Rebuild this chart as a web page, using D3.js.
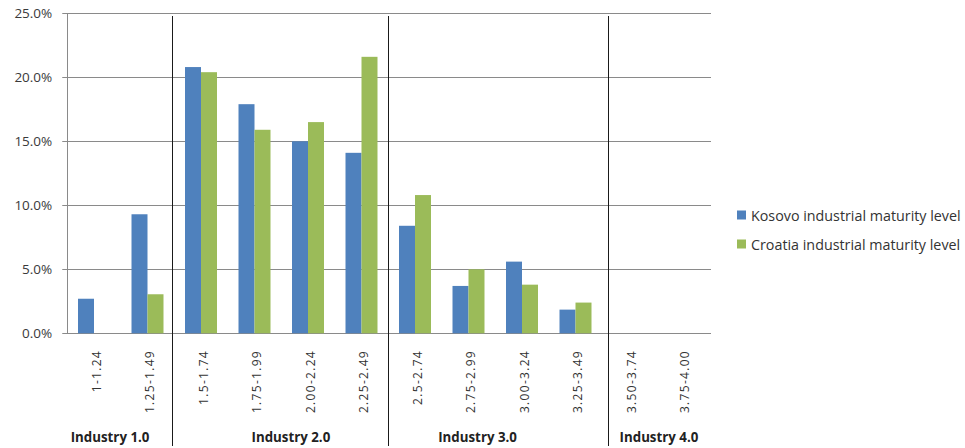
<!DOCTYPE html>
<html>
<head>
<meta charset="utf-8">
<script src="https://cdn.jsdelivr.net/npm/d3@7"></script>
<style>
  html, body { margin: 0; padding: 0; background: #fff; }
  svg { display: block; }
</style>
</head>
<body>
<svg id="chart" width="965" height="448"></svg>
<script>
// ---- Data ----
const categories = ["1-1.24", "1.25-1.49", "1.5-1.74", "1.75-1.99", "2.00-2.24", "2.25-2.49",
                    "2.5-2.74", "2.75-2.99", "3.00-3.24", "3.25-3.49", "3.50-3.74", "3.75-4.00"];
const seriesNames = ["Kosovo industrial maturity level", "Croatia industrial maturity level"];
const kosovo  = [2.7, 9.3, 20.8, 17.9, 15.0, 14.1, 8.4, 3.7, 5.6, 1.85, 0, 0];
const croatia = [0,   3.05, 20.4, 15.9, 16.5, 21.6, 10.8, 5.0, 3.8, 2.4, 0, 0];
const yTicks = [0, 5, 10, 15, 20, 25];
const groupNames = ["Industry 1.0", "Industry 2.0", "Industry 3.0", "Industry 4.0"];
// group separators and label centres, in category units from the left edge
const groupBreaks = [1.96, 6.0, 10.1];
const groupLabelPos = [0.8, 4.18, 7.67, 11.06];

const colors = ["#4F81BD", "#9BBB59"];

// ---- Layout ----
const svg = d3.select("#chart");
const plotLeft = 67.25, plotRight = 709.25, plotTop = 13.3, plotBottom = 333.3;

const x0 = d3.scaleBand().domain(categories).range([plotLeft, plotRight]).paddingInner(0.402).paddingOuter(0.201);
const x1 = d3.scaleBand().domain([0, 1]).range([0, x0.bandwidth()]);
const y = d3.scaleLinear().domain([0, 25]).range([plotBottom, plotTop]);
const stepUnits = d3.scaleLinear().domain([0, categories.length]).range([plotLeft, plotRight]);

// gridlines
svg.append("g").selectAll("line").data(yTicks).join("line")
  .attr("x1", plotLeft - 5).attr("x2", 711)
  .attr("y1", d => Math.round(y(d)) + 0.5).attr("y2", d => Math.round(y(d)) + 0.5)
  .attr("stroke", "#8a8a8a").attr("stroke-width", 1);

// y axis
const yAxis = d3.axisLeft(y).tickValues(yTicks).tickSize(0).tickPadding(15)
  .tickFormat(d => d.toFixed(1) + "%");
const gy = svg.append("g").attr("transform", `translate(${plotLeft},0)`).call(yAxis);
gy.select(".domain").remove();
gy.selectAll("text").attr("font-family", "'Open Sans', sans-serif").attr("font-size", "13.5px")
  .attr("fill", "#3a3a3a");
svg.append("line").attr("x1", Math.round(plotLeft) + 0.5).attr("x2", Math.round(plotLeft) + 0.5)
  .attr("y1", y(25)).attr("y2", y(0)).attr("stroke", "#8a8a8a");

// bars
const data = categories.map((c, i) => ({ c, vals: [kosovo[i], croatia[i]] }));
svg.append("g").selectAll("g").data(data).join("g")
  .attr("transform", d => `translate(${x0(d.c)},0)`)
  .selectAll("rect").data(d => d.vals.map((v, k) => ({ v, k }))).join("rect")
  .attr("x", d => x1(d.k)).attr("width", x1.bandwidth())
  .attr("y", d => y(d.v)).attr("height", d => y(0) - y(d.v))
  .attr("fill", d => colors[d.k]);

// category labels (rotated)
svg.append("g").selectAll("text").data(categories).join("text")
  .attr("transform", d => `translate(${x0(d) + x0.bandwidth() / 2 + 2},350) rotate(-90)`)
  .attr("text-anchor", "end").attr("dominant-baseline", "central")
  .attr("font-family", "'Open Sans', sans-serif").attr("font-size", "12px")
  .attr("letter-spacing", "1.3px").attr("fill", "#333")
  .text(d => d);

// group separators
svg.append("g").selectAll("line").data(groupBreaks).join("line")
  .attr("x1", d => Math.round(stepUnits(d)) + 0.5).attr("x2", d => Math.round(stepUnits(d)) + 0.5)
  .attr("y1", 16).attr("y2", 446)
  .attr("stroke", "#1a1a1a").attr("stroke-width", 1);

// group labels
svg.append("g").selectAll("text").data(groupNames).join("text")
  .attr("x", (d, i) => stepUnits(groupLabelPos[i])).attr("y", 442)
  .attr("text-anchor", "middle")
  .attr("font-family", "'Open Sans', sans-serif").attr("font-size", "13.3px").attr("font-weight", "bold")
  .attr("fill", "#222")
  .text(d => d);

// legend
const lg = svg.append("g").selectAll("g").data(seriesNames).join("g")
  .attr("transform", (d, i) => `translate(737,${215 + i * 29})`);
lg.append("rect").attr("x", 0).attr("y", -4.5).attr("width", 9).attr("height", 9)
  .attr("fill", (d, i) => colors[i]);
lg.append("text").attr("x", 14).attr("y", 0).attr("dominant-baseline", "central")
  .attr("font-family", "'Open Sans', sans-serif").attr("font-size", "14.3px").attr("fill", "#333")
  .text(d => d);
</script>
</body>
</html>
